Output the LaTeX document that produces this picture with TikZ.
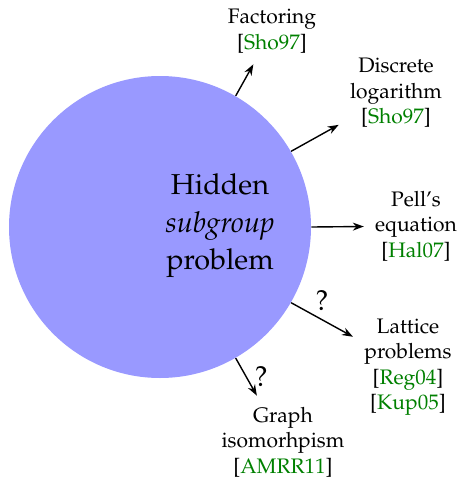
\documentclass[tikz,border=0pt]{standalone}
\usepackage[T1]{fontenc}
\usepackage{mathpazo}
\usetikzlibrary{arrows.meta}
\definecolor{hsp}{RGB}{153,153,255}
\definecolor{cite}{RGB}{0,128,0}
\newcommand{\cit}[1]{[\textcolor{cite}{#1}]}
\tikzset{
  lbl/.style={align=center,inner sep=5.5pt,font=\fontsize{10.5}{12.7}\selectfont},
  arr/.style={-{Stealth[length=5.5pt,width=4pt]},line width=0.7pt},
  qm/.style={font=\fontsize{14.4}{18}\selectfont,inner sep=1pt}
}
\begin{document}
\begin{tikzpicture}[x=0.5pt,y=-0.5pt]
\useasboundingbox (0,0) rectangle (460,478);
\node[circle,fill=hsp,minimum size=151pt,inner sep=0pt] (c) at (160,227) {};
\node[align=center,font=\fontsize{14.4}{18.8}\selectfont] (h) at (220,226) {Hidden\\\textit{subgroup}\\problem};
\node[lbl] (fac) at (272,31) {Factoring\\\cit{Sho97}};
\node[lbl] (dis) at (396,93) {Discrete\\logarithm\\\cit{Sho97}};
\node[lbl] (pell) at (416,226) {Pell's\\equation\\\cit{Hal07}};
\node[lbl] (lat) at (408,367) {Lattice\\problems\\\cit{Reg04}\\\cit{Kup05}};
\node[lbl] (gra) at (283,442) {Graph\\isomorhpism\\\cit{AMRR11}};
\draw[arr] (c.60) -- (fac);
\draw[arr] (c.30) -- (dis);
\draw[arr] (c.0) -- (pell);
\draw[arr] (c.-30) -- node[qm,above=3pt] {?} (lat);
\draw[arr] (c.-60) -- node[qm,right=3pt] {?} (gra);
\end{tikzpicture}
\end{document}
